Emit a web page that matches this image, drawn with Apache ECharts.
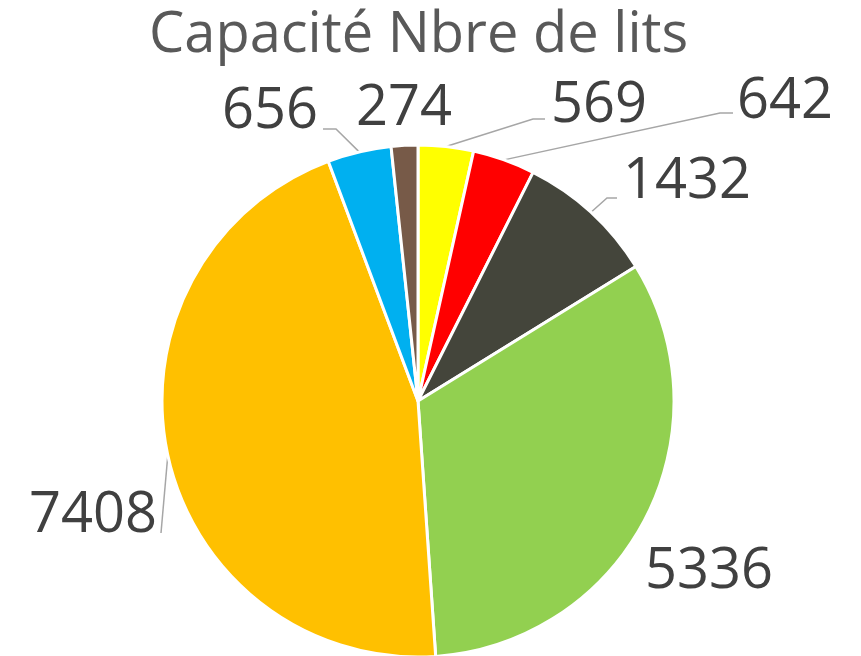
<!DOCTYPE html>
<html>
<head>
<meta charset="utf-8">
<script src="https://cdn.jsdelivr.net/npm/echarts@6/dist/echarts.min.js"></script>
<style>
    html, body { margin: 0; padding: 0; background: #fff; }
    #chart { width: 861px; height: 656px; }
</style>
</head>
<body>
<div id="chart"></div>
<script>
    // valeurs, dans l'ordre horaire depuis midi
    const values = [569, 642, 1432, 5336, 7408, 656, 274];
    const colors = ['#FFFF00', '#FF0000', '#44453B', '#92D050', '#FFC000', '#00B0F0', '#775A48'];

    // placement des étiquettes (centre du texte) et coude du trait de rappel
    const labelPos = [[599, 106], [785, 102], [687, 182], [709, 572], [93, 516], [270, 112], [404, 109]];
    const elbows = [
        [[533, 119], [545, 119]]
        , [[720, 113], [733, 113]]
        , [[607, 198], [617, 198]]
        , null
        , [[161, 533], [161, 533]]
        , [[336, 129], [323, 129]]
        , null
    ];

    const myChart = echarts.init(document.getElementById('chart'));
    const option = {
        title: {
            text: 'Capacité Nbre de lits'
            , left: 144
            , top: 3
            , textStyle: {
                fontFamily: 'Open Sans'
                , fontSize: 56
                , fontWeight: 'normal'
                , color: '#595959'
            }
        }
        , series: [{
            type: 'pie'
            , center: [418, 401]
            , radius: 256
            , startAngle: 90
            , clockwise: true
            , animation: false
            , data: values.map(function (v, i) {
                return {
                    value: v
                    , itemStyle: {color: colors[i]}
                    , labelLine: {show: elbows[i] !== null}
                };
            })
            , itemStyle: {
                borderColor: '#fff'
                , borderWidth: 3
            }
            , label: {
                show: true
                , formatter: '{c}'
                , fontFamily: 'Open Sans'
                , fontSize: 56
                , color: '#404040'
                , overflow: 'none'
            }
            , labelLine: {
                show: true
                , length: 15
                , length2: 20
                , lineStyle: {color: '#A6A6A6', width: 1.5}
            }
            , labelLayout: function (params) {
                const i = params.dataIndex;
                const res = {
                    x: labelPos[i][0]
                    , y: labelPos[i][1]
                    , align: 'center'
                    , verticalAlign: 'middle'
                    , hideOverlap: false
                };
                if (elbows[i] && params.labelLinePoints) {
                    res.labelLinePoints = [params.labelLinePoints[0], elbows[i][0], elbows[i][1]];
                }
                return res;
            }
        }]
    };
    myChart.setOption(option);
</script>
</body>
</html>
